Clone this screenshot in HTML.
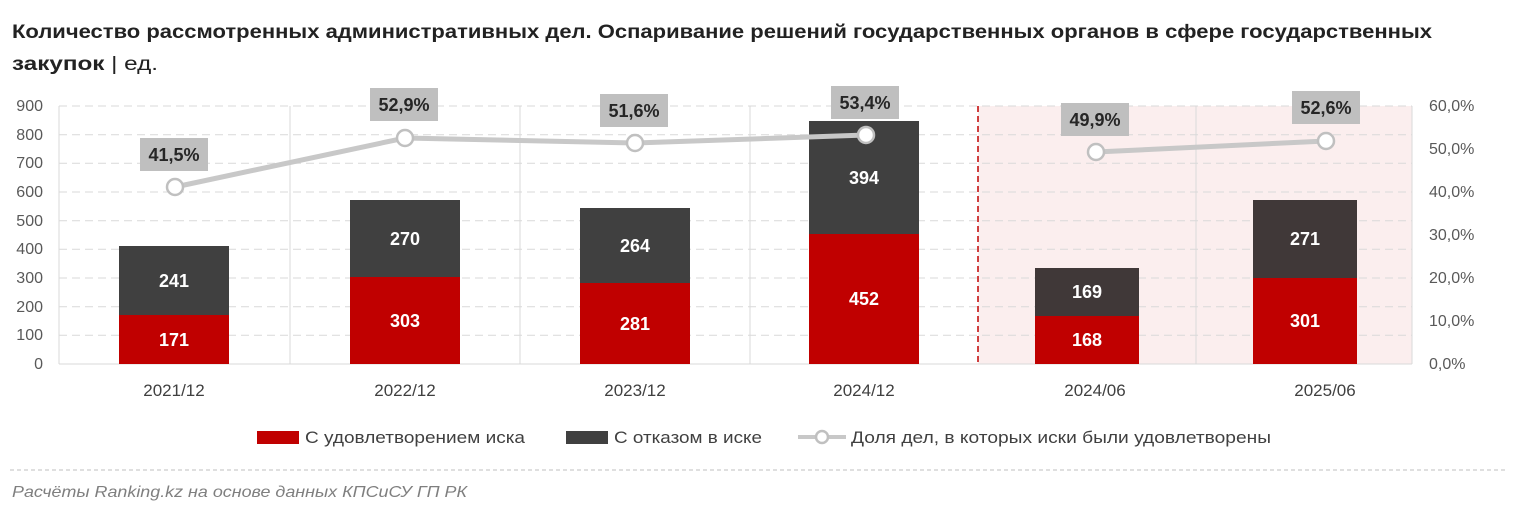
<!DOCTYPE html><html><head><meta charset="utf-8"><style>body{margin:0;background:#fff;font-family:"Liberation Sans",sans-serif}</style></head><body>
<svg width="1515" height="513" xmlns="http://www.w3.org/2000/svg" font-family="Liberation Sans, sans-serif">
<text x="12" y="38" font-size="19" font-weight="bold" fill="#222" textLength="1420" lengthAdjust="spacingAndGlyphs">Количество рассмотренных административных дел. Оспаривание решений государственных органов в сфере государственных</text>
<text x="12" y="70" font-size="19" font-weight="bold" fill="#222" textLength="146" lengthAdjust="spacingAndGlyphs">закупок <tspan font-weight="normal">| ед.</tspan></text>
<rect x="978" y="106" width="434" height="258" fill="#fbeeee"/>
<g stroke="#d9d9d9" stroke-dasharray="8,5">
<line x1="59" x2="1412" y1="106" y2="106"/><line x1="59" x2="1412" y1="134.7" y2="134.7"/><line x1="59" x2="1412" y1="163.3" y2="163.3"/><line x1="59" x2="1412" y1="192" y2="192"/><line x1="59" x2="1412" y1="220.7" y2="220.7"/><line x1="59" x2="1412" y1="249.3" y2="249.3"/><line x1="59" x2="1412" y1="278" y2="278"/><line x1="59" x2="1412" y1="306.7" y2="306.7"/><line x1="59" x2="1412" y1="335.3" y2="335.3"/></g>
<g stroke="#d9d9d9"><line x1="59" x2="59" y1="106" y2="364"/><line x1="290" x2="290" y1="106" y2="364"/><line x1="520" x2="520" y1="106" y2="364"/><line x1="750" x2="750" y1="106" y2="364"/><line x1="1196" x2="1196" y1="106" y2="364"/><line x1="1412" x2="1412" y1="106" y2="364"/><line x1="59" x2="1412" y1="364" y2="364"/></g>
<line x1="978" x2="978" y1="106" y2="364" stroke="#c00000" stroke-width="1.5" stroke-dasharray="6,4"/>
<g font-size="16" fill="#595959" text-anchor="end">
<text x="43" y="111">900</text><text x="43" y="140">800</text><text x="43" y="168">700</text><text x="43" y="197">600</text><text x="43" y="226">500</text><text x="43" y="254">400</text><text x="43" y="283">300</text><text x="43" y="312">200</text><text x="43" y="340">100</text><text x="43" y="369">0</text></g>
<g font-size="16" fill="#595959" text-anchor="start">
<text x="1429" y="111">60,0%</text><text x="1429" y="154">50,0%</text><text x="1429" y="197">40,0%</text><text x="1429" y="240">30,0%</text><text x="1429" y="283">20,0%</text><text x="1429" y="326">10,0%</text><text x="1429" y="369">0,0%</text></g>
<g font-size="17" fill="#404040" text-anchor="middle">
<text x="174" y="396">2021/12</text><text x="405" y="396">2022/12</text><text x="635" y="396">2023/12</text><text x="864" y="396">2024/12</text><text x="1095" y="396">2024/06</text><text x="1325" y="396">2025/06</text></g>
<g>
<rect x="119" y="315" width="110" height="49" fill="#c00000"/><rect x="119" y="246" width="110" height="69" fill="#404040"/>
<rect x="350" y="277" width="110" height="87" fill="#c00000"/><rect x="350" y="200" width="110" height="77" fill="#404040"/>
<rect x="580" y="283" width="110" height="81" fill="#c00000"/><rect x="580" y="208" width="110" height="75" fill="#404040"/>
<rect x="809" y="234" width="110" height="130" fill="#c00000"/><rect x="809" y="121" width="110" height="113" fill="#404040"/>
<rect x="1035" y="316" width="104" height="48" fill="#c00000"/><rect x="1035" y="268" width="104" height="48" fill="#403838"/>
<rect x="1253" y="278" width="104" height="86" fill="#c00000"/><rect x="1253" y="200" width="104" height="78" fill="#403838"/>
</g>
<g font-size="18" font-weight="bold" fill="#fff" text-anchor="middle">
<text x="174" y="346">171</text><text x="174" y="287">241</text>
<text x="405" y="327">303</text><text x="405" y="245">270</text>
<text x="635" y="330">281</text><text x="635" y="252">264</text>
<text x="864" y="305">452</text><text x="864" y="184">394</text>
<text x="1087" y="346">168</text><text x="1087" y="298">169</text>
<text x="1305" y="327">301</text><text x="1305" y="245">271</text></g>
<polyline points="175,187 405,138 635,143 866,135" fill="none" stroke="#c8c8c8" stroke-width="5"/>
<line x1="1096" y1="152" x2="1326" y2="141" stroke="#c8c8c8" stroke-width="5"/>
<g fill="#fff" stroke="#c0c0c0" stroke-width="2.5">
<circle cx="175" cy="187" r="8"/><circle cx="405" cy="138" r="8"/><circle cx="635" cy="143" r="8"/><circle cx="866" cy="135" r="8"/><circle cx="1096" cy="152" r="8"/><circle cx="1326" cy="141" r="8"/></g>
<g fill="#bfbfbf">
<rect x="140" y="138" width="68" height="33"/><rect x="370" y="88" width="68" height="33"/><rect x="600" y="94" width="68" height="33"/><rect x="831" y="86" width="68" height="33"/><rect x="1061" y="103" width="68" height="33"/><rect x="1292" y="91" width="68" height="33"/></g>
<g font-size="18" font-weight="bold" fill="#262626" text-anchor="middle">
<text x="174" y="161">41,5%</text><text x="404" y="111">52,9%</text><text x="634" y="117">51,6%</text><text x="865" y="109">53,4%</text><text x="1095" y="126">49,9%</text><text x="1326" y="114">52,6%</text></g>
<rect x="257" y="431" width="42" height="13" fill="#c00000"/>
<text x="305" y="443" font-size="17" fill="#404040" textLength="220" lengthAdjust="spacingAndGlyphs">С удовлетворением иска</text>
<rect x="566" y="431" width="42" height="13" fill="#404040"/>
<text x="614" y="443" font-size="17" fill="#404040" textLength="148" lengthAdjust="spacingAndGlyphs">С отказом в иске</text>
<line x1="798" x2="846" y1="437" y2="437" stroke="#c8c8c8" stroke-width="4"/>
<circle cx="822" cy="437" r="6" fill="#fff" stroke="#c0c0c0" stroke-width="2.5"/>
<text x="851" y="443" font-size="17" fill="#404040" textLength="420" lengthAdjust="spacingAndGlyphs">Доля дел, в которых иски были удовлетворены</text>
<line x1="10" x2="1505" y1="470" y2="470" stroke="#bfbfbf" stroke-dasharray="4,3"/>
<text x="12" y="497" font-size="16" font-style="italic" fill="#7f7f7f" textLength="455" lengthAdjust="spacingAndGlyphs">Расчёты Ranking.kz на основе данных КПСиСУ ГП РК</text>
</svg></body></html>
